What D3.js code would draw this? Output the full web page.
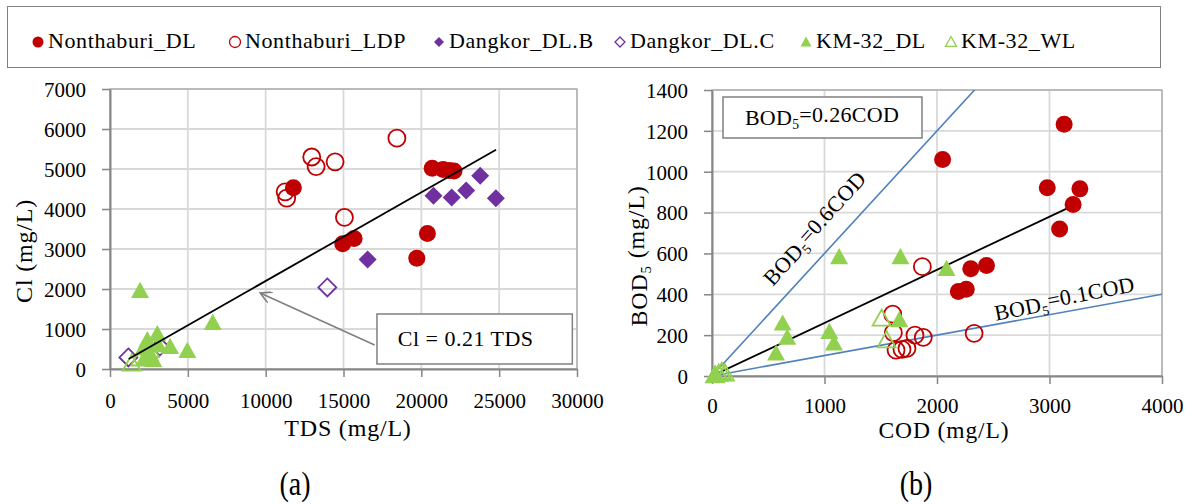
<!DOCTYPE html>
<html>
<head>
<meta charset="utf-8">
<script src="https://cdnjs.cloudflare.com/ajax/libs/d3/7.8.5/d3.min.js"></script>
<style>
body { margin: 0; background: #fff; }
</style>
</head>
<body>
<script>
// ---- data ----
var seriesNames = ["Nonthaburi_DL", "Nonthaburi_LDP", "Dangkor_DL.B", "Dangkor_DL.C", "KM-32_DL", "KM-32_WL"];

var tdsTicks = [0, 5000, 10000, 15000, 20000, 25000, 30000];
var clTicks = [0, 1000, 2000, 3000, 4000, 5000, 6000, 7000];
var codTicks = [0, 1000, 2000, 3000, 4000];
var bodTicks = [0, 200, 400, 600, 800, 1000, 1200, 1400];

// panel (a): [TDS, Cl]
var nontDL_a = [[11780, 4530], [14950, 3130], [15680, 3260], [19710, 2770], [20390, 3390],
                [20700, 5020], [21400, 4990], [21800, 4960], [22100, 4950]];
var nontLDP_a = [[11250, 4430], [11350, 4270], [12960, 5300], [13240, 5060], [14460, 5180],
                 [18430, 5770], [15060, 3790]];
var dangB_a = [[16550, 2740], [20780, 4330], [21950, 4290], [22880, 4460], [23780, 4830], [24790, 4270]];
var dangC_a = [[13960, 2040], [1180, 290], [3200, 560]];
var kmDL_a = [[1930, 1960], [6600, 1160], [4970, 460], [3860, 560], [3040, 875], [2400, 725],
              [2140, 520], [2570, 390], [2250, 270], [3100, 600], [2780, 230]];
var kmWL_a = [[1390, 140], [1930, 270], [2350, 310], [2570, 480]];
var trend_a = [[1200, 250], [24800, 5480]];
var arrow_a = [[17000, 600], [9650, 1900]];   // tail, head
var box_a = [[17150, 1375], [29700, 125]];
var label_a = "Cl = 0.21 TDS";

// panel (b): [COD, BOD5]
var nontDL_b = [[2050, 1060], [3130, 1232], [2980, 921], [3270, 916], [3210, 839], [3090, 720],
                [2300, 525], [2440, 541], [2190, 414], [2260, 425]];
var nontLDP_b = [[1870, 535], [1606, 303], [1612, 212], [1804, 200], [1878, 189], [2330, 209],
                 [1636, 127], [1689, 130], [1733, 135]];
var dangB_b = [];
var dangC_b = [];
var kmDL_b = [[1130, 583], [1675, 583], [628, 258], [669, 189], [569, 111], [1043, 217],
              [1084, 160], [1665, 274], [2085, 525], [30, 8]];
var kmWL_b = [[1508, 282], [1552, 176], [27, 5], [86, 21], [115, 13], [60, 12]];
var ratioHigh = 0.6, ratioFit = 0.26, ratioLow = 0.1;
var fitEndCOD = 3270;

// ---- style per series ----
var FONT = "Liberation Serif, serif";
var styles = [
  {shape: "circle", color: "#C00000", filled: true},
  {shape: "circle", color: "#C00000", filled: false},
  {shape: "diamond", color: "#7030A0", filled: true},
  {shape: "diamond", color: "#7030A0", filled: false},
  {shape: "triangle", color: "#92D050", filled: true},
  {shape: "triangle", color: "#92D050", filled: false}
];

function markerPath(shape, r) {
  if (shape === "circle") {
    return "M" + (-r) + ",0A" + r + "," + r + " 0 1,0 " + r + ",0A" + r + "," + r + " 0 1,0 " + (-r) + ",0Z";
  }
  if (shape === "diamond") {
    return "M0," + (-r) + "L" + r + ",0L0," + r + "L" + (-r) + ",0Z";
  }
  var h = r * 1.8;
  return "M0," + (-h * 0.55) + "L" + r + "," + (h * 0.45) + "L" + (-r) + "," + (h * 0.45) + "Z";
}

var W = 1197, H = 504;
var svg = d3.select("body").append("svg")
  .attr("width", W).attr("height", H)
  .attr("font-family", FONT);

// ---- legend ----
svg.append("rect")
  .attr("x", 7.5).attr("y", 6.5).attr("width", 1153).attr("height", 61)
  .attr("fill", "#fff").attr("stroke", "#808080").attr("stroke-width", 1);

var legendX = [38, 235, 439, 620, 806, 951];
var legSizes = [5.5, 5.5, 5, 5, 5.5, 5.5];
seriesNames.forEach(function(name, i) {
  var st = styles[i];
  svg.append("path")
    .attr("transform", "translate(" + legendX[i] + ",42)")
    .attr("d", markerPath(st.shape, legSizes[i]))
    .attr("fill", st.filled ? st.color : "none")
    .attr("stroke", st.color)
    .attr("stroke-width", st.filled ? 0 : 1.3);
  svg.append("text")
    .attr("x", legendX[i] + 10).attr("y", 48)
    .attr("font-size", 22).attr("letter-spacing", 0.6)
    .text(name);
});

// ---- generic panel ----
function drawPanel(opt) {
  var x = d3.scaleLinear().domain(opt.xDomain).range([opt.left, opt.right]);
  var y = d3.scaleLinear().domain(opt.yDomain).range([opt.bottom, opt.top]);
  var g = svg.append("g");

  // gridlines
  g.selectAll(".gx").data(opt.xTicks).enter().append("line")
    .attr("x1", function(d) { return x(d); }).attr("x2", function(d) { return x(d); })
    .attr("y1", opt.top).attr("y2", opt.bottom)
    .attr("stroke", "#d9d9d9").attr("stroke-width", 1.8);
  g.selectAll(".gy").data(opt.yTicks).enter().append("line")
    .attr("x1", opt.left).attr("x2", opt.right)
    .attr("y1", function(d) { return y(d); }).attr("y2", function(d) { return y(d); })
    .attr("stroke", "#d9d9d9").attr("stroke-width", 1.8);

  // plot border
  g.append("rect")
    .attr("x", opt.left).attr("y", opt.top)
    .attr("width", opt.right - opt.left).attr("height", opt.bottom - opt.top)
    .attr("fill", "none").attr("stroke", "#a6a6a6").attr("stroke-width", 1.2);

  // axes
  var xAxis = d3.axisBottom(x).tickValues(opt.xTicks).tickSize(8).tickSizeOuter(0)
    .tickFormat(d3.format("d"));
  var yAxis = d3.axisLeft(y).tickValues(opt.yTicks).tickSize(8).tickSizeOuter(0).tickPadding(16)
    .tickFormat(d3.format("d"));
  var ax = g.append("g").attr("transform", "translate(0," + opt.bottom + ")").call(xAxis);
  var ay = g.append("g").attr("transform", "translate(" + opt.left + ",0)").call(yAxis);
  [ax, ay].forEach(function(a) {
    a.attr("font-family", FONT).attr("font-size", 21);
    a.select(".domain").attr("stroke", "#868686").attr("stroke-width", 2);
    a.selectAll(".tick line").attr("stroke", "#868686").attr("stroke-width", 1.5);
    a.selectAll("text").attr("fill", "#000");
  });
  ay.selectAll("text").attr("dy", "0.35em");
  ax.selectAll("text").attr("y", opt.xLabelOffset).attr("dy", 0);

  g.x = x; g.y = y;
  return g;
}

function drawSeries(g, data, st, r) {
  g.append("g").selectAll("path").data(data).enter().append("path")
    .attr("transform", function(d) { return "translate(" + g.x(d[0]) + "," + g.y(d[1]) + ")"; })
    .attr("d", markerPath(st.shape, r))
    .attr("fill", st.filled ? st.color : "none")
    .attr("stroke", st.color)
    .attr("stroke-width", st.filled ? 0 : 1.8);
}

// ---- panel (a) ----
var ga = drawPanel({
  xDomain: [0, 30000], yDomain: [0, 7000],
  left: 110, right: 577, top: 89, bottom: 369,
  xTicks: tdsTicks, yTicks: clTicks, xLabelOffset: 39
});
var seriesA = [nontDL_a, nontLDP_a, dangB_a, dangC_a, kmDL_a, kmWL_a];
var rA = [8.5, 8.5, 9, 9, 9, 9];
seriesA.forEach(function(s, i) { drawSeries(ga, s, styles[i], rA[i]); });

ga.append("line")
  .attr("x1", ga.x(trend_a[0][0])).attr("y1", ga.y(trend_a[0][1]))
  .attr("x2", ga.x(trend_a[1][0])).attr("y2", ga.y(trend_a[1][1]))
  .attr("stroke", "#000").attr("stroke-width", 1.8);

// arrow
svg.append("defs").append("marker")
  .attr("id", "arr").attr("viewBox", "0 0 12 12").attr("refX", 11).attr("refY", 6)
  .attr("markerWidth", 12).attr("markerHeight", 12).attr("markerUnits", "userSpaceOnUse")
  .attr("orient", "auto")
  .append("path").attr("d", "M0,0L11,6L0,12").attr("fill", "none")
  .attr("stroke", "#7f7f7f").attr("stroke-width", 1.6);
ga.append("line")
  .attr("x1", ga.x(arrow_a[0][0])).attr("y1", ga.y(arrow_a[0][1]))
  .attr("x2", ga.x(arrow_a[1][0])).attr("y2", ga.y(arrow_a[1][1]))
  .attr("stroke", "#7f7f7f").attr("stroke-width", 1.6)
  .attr("marker-end", "url(#arr)");

ga.append("rect")
  .attr("x", ga.x(box_a[0][0])).attr("y", ga.y(box_a[0][1]))
  .attr("width", ga.x(box_a[1][0]) - ga.x(box_a[0][0]))
  .attr("height", ga.y(box_a[1][1]) - ga.y(box_a[0][1]))
  .attr("fill", "#fff").attr("stroke", "#808080").attr("stroke-width", 1.5);
ga.append("text")
  .attr("x", (ga.x(box_a[0][0]) + ga.x(box_a[1][0])) / 2 - 9)
  .attr("y", (ga.y(box_a[0][1]) + ga.y(box_a[1][1])) / 2 + 7)
  .attr("text-anchor", "middle").attr("font-size", 22).attr("letter-spacing", 0.5)
  .text(label_a);

// axis titles (a)
ga.append("text").attr("x", 348).attr("y", 436).attr("text-anchor", "middle")
  .attr("font-size", 24).attr("letter-spacing", 0.8).text("TDS (mg/L)");
ga.append("text").attr("transform", "translate(32,251) rotate(-90)").attr("text-anchor", "middle")
  .attr("font-size", 24).attr("letter-spacing", 0.8).text("Cl (mg/L)");
ga.append("text").attr("transform", "translate(295,495) scale(0.85,1)").attr("text-anchor", "middle")
  .attr("font-size", 33).text("(a)");

// ---- panel (b) ----
var gb = drawPanel({
  xDomain: [0, 4000], yDomain: [0, 1400],
  left: 712, right: 1162, top: 90, bottom: 376,
  xTicks: codTicks, yTicks: bodTicks, xLabelOffset: 37
});

// ratio lines
svg.select("defs").append("clipPath").attr("id", "clipb")
  .append("rect").attr("x", 712).attr("y", 90).attr("width", 450).attr("height", 286);
var ratioLines = gb.append("g").attr("clip-path", "url(#clipb)");
[ratioHigh, ratioLow].forEach(function(k) {
  ratioLines.append("line")
    .attr("x1", gb.x(0)).attr("y1", gb.y(0))
    .attr("x2", gb.x(4000)).attr("y2", gb.y(4000 * k))
    .attr("stroke", "#4F81BD").attr("stroke-width", 1.6);
});
ratioLines.append("line")
  .attr("x1", gb.x(0)).attr("y1", gb.y(0))
  .attr("x2", gb.x(fitEndCOD)).attr("y2", gb.y(fitEndCOD * ratioFit))
  .attr("stroke", "#000").attr("stroke-width", 1.8);

var seriesB = [nontDL_b, nontLDP_b, dangB_b, dangC_b, kmDL_b, kmWL_b];
var rB = [8.5, 8.5, 9, 9, 9, 9];
seriesB.forEach(function(s, i) { drawSeries(gb, s, styles[i], rB[i]); });

function bodLabel(sel, txt) {
  sel.append("tspan").text("BOD");
  sel.append("tspan").attr("font-size", "0.62em").attr("dy", "0.3em").text("5");
  sel.append("tspan").attr("dy", "-0.3em").text(txt);
}

// label box
gb.append("rect")
  .attr("x", 723).attr("y", 97).attr("width", 199).attr("height", 41)
  .attr("fill", "#fff").attr("stroke", "#808080").attr("stroke-width", 1.5);
bodLabel(gb.append("text").attr("x", 822).attr("y", 125).attr("text-anchor", "middle")
  .attr("font-size", 22).attr("letter-spacing", 0.3), "=0.26COD");

// rotated line labels
var angHigh = Math.atan2(gb.y(0) - gb.y(ratioHigh * 1000), gb.x(1000) - gb.x(0)) * 180 / Math.PI;
bodLabel(gb.append("text")
  .attr("transform", "translate(" + gb.x(969) + "," + gb.y(694) + ") rotate(" + (-angHigh) + ")")
  .attr("text-anchor", "middle").attr("font-size", 22).attr("letter-spacing", 0.3), "=0.6COD");
bodLabel(gb.append("text")
  .attr("transform", "translate(" + gb.x(3147) + "," + gb.y(337) + ") rotate(-11)")
  .attr("text-anchor", "middle").attr("font-size", 22).attr("letter-spacing", 0.3), "=0.1COD");

// axis titles (b)
gb.append("text").attr("x", 944).attr("y", 438).attr("text-anchor", "middle")
  .attr("font-size", 23.5).attr("letter-spacing", 0.9).text("COD (mg/L)");
bodLabel(gb.append("text").attr("transform", "translate(647,256) rotate(-90)")
  .attr("text-anchor", "middle").attr("font-size", 24).attr("letter-spacing", 0.8), " (mg/L)");
gb.append("text").attr("transform", "translate(916,495) scale(0.85,1)").attr("text-anchor", "middle")
  .attr("font-size", 33).text("(b)");
</script>
</body>
</html>
